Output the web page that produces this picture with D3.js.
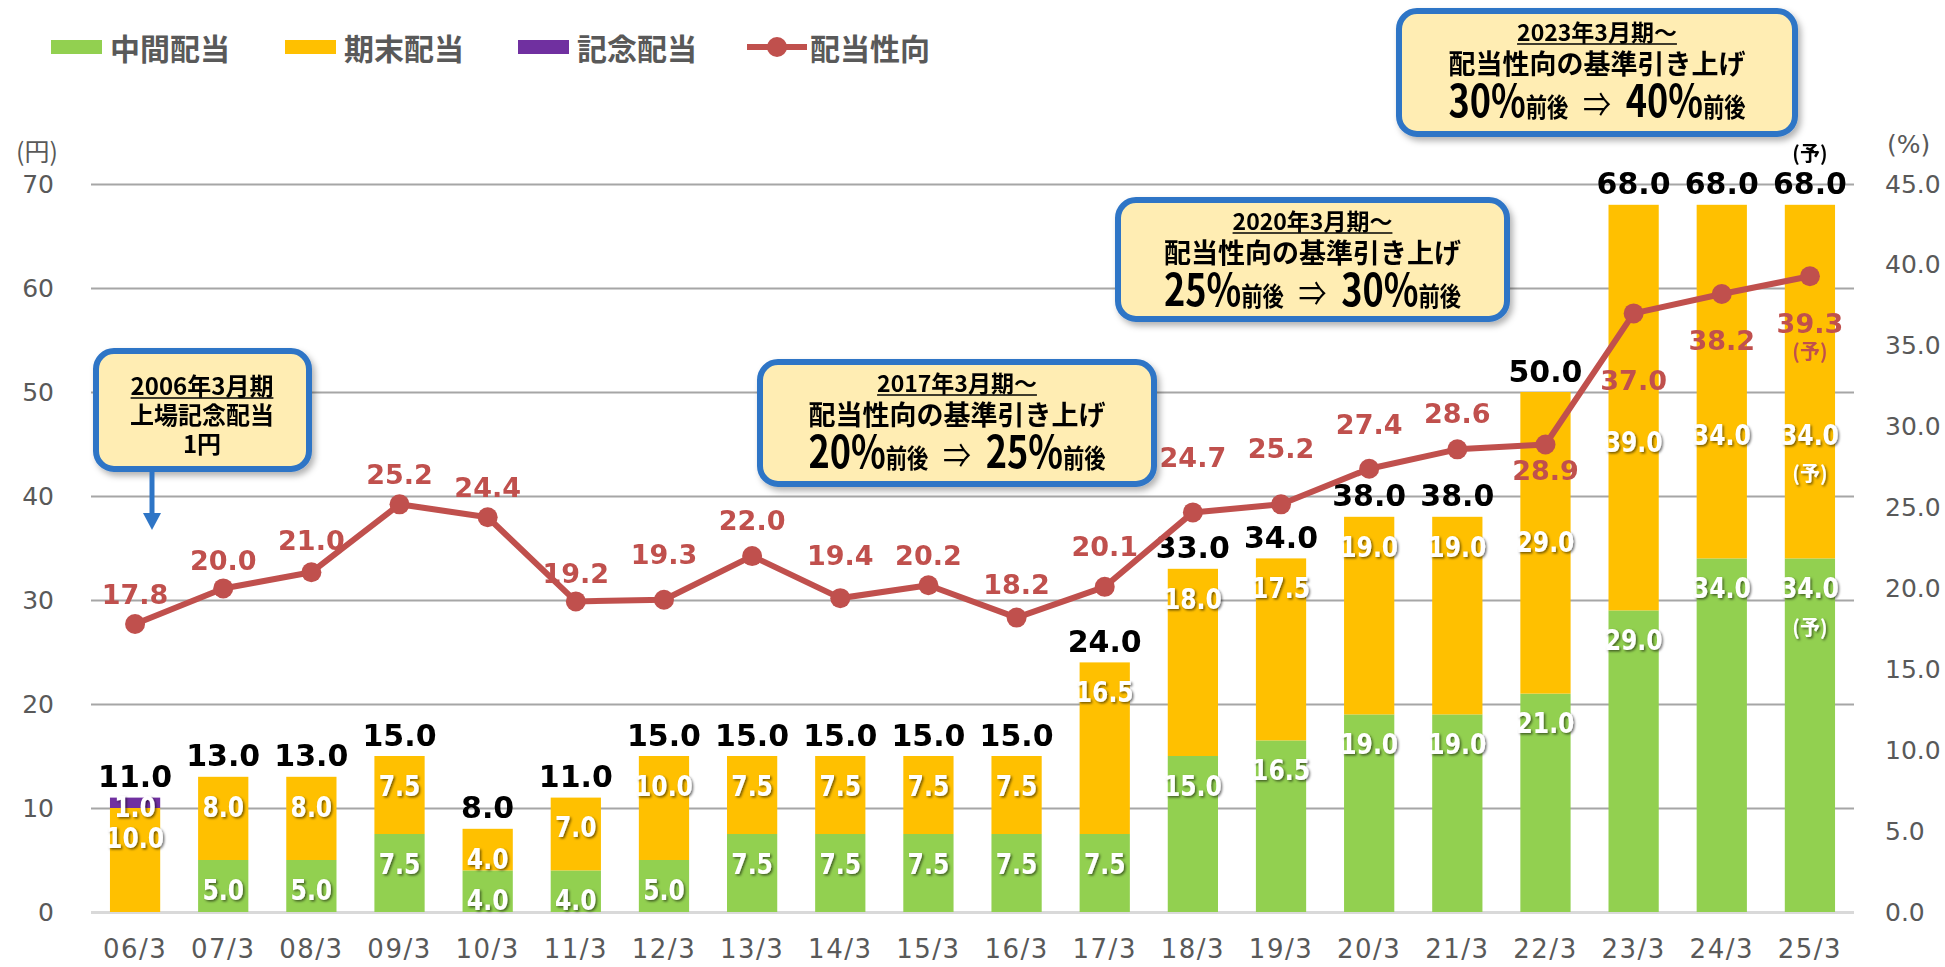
<!DOCTYPE html>
<html>
<head>
<meta charset="utf-8">
<script src="https://cdn.jsdelivr.net/npm/d3@7"></script>
<style>
body{margin:0;background:#fff;}
text{font-family:"DejaVu Sans",sans-serif;}
.jp{font-family:"Noto Sans CJK JP",sans-serif;}
</style>
</head>
<body>
<svg id="chart" width="1945" height="967"></svg>
<script>
// data
var years=['06/3','07/3','08/3','09/3','10/3','11/3','12/3','13/3','14/3','15/3','16/3','17/3','18/3','19/3','20/3','21/3','22/3','23/3','24/3','25/3'];
var interim=[0,5.0,5.0,7.5,4.0,4.0,5.0,7.5,7.5,7.5,7.5,7.5,15.0,16.5,19.0,19.0,21.0,29.0,34.0,34.0];
var yearEnd=[10.0,8.0,8.0,7.5,4.0,7.0,10.0,7.5,7.5,7.5,7.5,16.5,18.0,17.5,19.0,19.0,29.0,39.0,34.0,34.0];
var commemorative=[1.0,0,0,0,0,0,0,0,0,0,0,0,0,0,0,0,0,0,0,0];
var payout=[17.8,20.0,21.0,25.2,24.4,19.2,19.3,22.0,19.4,20.2,18.2,20.1,24.7,25.2,27.4,28.6,28.9,37.0,38.2,39.3];
var yenTicks=[0,10,20,30,40,50,60,70];
var pctTicks=[0,5,10,15,20,25,30,35,40,45];
var seriesNames=['中間配当','期末配当','記念配当','配当性向'];
var seriesColors=['#92D050','#FFC000','#7030A0','#C0504D'];
var forecastYear='25/3';

// hand placed label offsets (px), like in the original sheet
var payoutLabelDy=[-30,-28,-32,-30,-30,-28,-45,-36,-43,-30,-33,-40,-55,-56,-44,-36,26,67,46,47];
var segLabelDy={'期末配当|22/3':150,'期末配当|23/3':237,'期末配当|24/3':230,'期末配当|25/3':230,'記念配当|06/3':10};

var svg=d3.select('#chart');
var defs=svg.append('defs');
defs.append('filter').attr('id','txtshadow').attr('x','-20%').attr('y','-20%').attr('width','140%').attr('height','140%')
  .append('feDropShadow').attr('dx',1.5).attr('dy',1.5).attr('stdDeviation',1).attr('flood-color','#000').attr('flood-opacity',0.55);
defs.append('filter').attr('id','boxshadow').attr('x','-10%').attr('y','-10%').attr('width','125%').attr('height','130%')
  .append('feDropShadow').attr('dx',3).attr('dy',4).attr('stdDeviation',3).attr('flood-color','#000').attr('flood-opacity',0.3);

var plotLeft=91,plotRight=1854,plotTop=184,plotBottom=912;
var x=d3.scaleBand().domain(years).range([plotLeft,plotRight]).paddingInner(0.43).paddingOuter(0.215);
var yL=d3.scaleLinear().domain([0,70]).range([plotBottom,plotTop]);
var yR=d3.scaleLinear().domain([0,45]).range([plotBottom,plotTop]);
function cx(year){return x(year)+x.bandwidth()/2;}

// gridlines + left axis
var gL=svg.append('g').attr('transform','translate('+plotLeft+',0)')
  .call(d3.axisLeft(yL).tickValues(yenTicks).tickSize(-(plotRight-plotLeft)).tickPadding(37));
gL.select('.domain').remove();
gL.selectAll('.tick line').attr('stroke',function(d){return d==0?'#D9D9D9':'#A6A6A6';}).attr('stroke-width',function(d){return d==0?3:2;});
gL.selectAll('.tick text').attr('fill','#595959').style('font-size','25px');

var gR=svg.append('g').attr('transform','translate('+plotRight+',0)')
  .call(d3.axisRight(yR).tickValues(pctTicks).tickFormat(d3.format('.1f')).tickSize(0).tickPadding(31));
gR.select('.domain').remove();
gR.selectAll('.tick text').attr('fill','#595959').style('font-size','25px');

var gB=svg.append('g').attr('transform','translate(0,'+plotBottom+')')
  .call(d3.axisBottom(x).tickSize(0).tickPadding(28));
gB.select('.domain').remove();
gB.selectAll('.tick text').attr('fill','#595959').style('font-size','26px').style('letter-spacing','1.5px');

svg.append('text').attr('class','jp').attr('x',16).attr('y',150).attr('dominant-baseline','central')
  .attr('fill','#595959').style('font-size','25px').text('(円)');
svg.append('text').attr('x',1887).attr('y',144).attr('dominant-baseline','central')
  .attr('fill','#595959').style('font-size','25px').text('(%)');

// stacked bars
var table=years.map(function(y,i){return {year:y,'中間配当':interim[i],'期末配当':yearEnd[i],'記念配当':commemorative[i]};});
var stacked=d3.stack().keys(seriesNames.slice(0,3))(table);

var layers=svg.append('g').selectAll('g').data(stacked).join('g').attr('fill',function(d,i){return seriesColors[i];});
layers.selectAll('rect').data(function(d){return d.filter(function(p){return p[1]>p[0];});}).join('rect')
  .attr('x',function(d){return x(d.data.year);})
  .attr('width',x.bandwidth())
  .attr('y',function(d){return yL(d[1]);})
  .attr('height',function(d){return yL(d[0])-yL(d[1]);});

// white segment labels
var segLabels=[];
stacked.forEach(function(layer){
  layer.forEach(function(p){
    if(p[1]>p[0]){
      var k=layer.key+'|'+p.data.year;
      var dy=segLabelDy[k]!==undefined?segLabelDy[k]:30;
      segLabels.push({year:p.data.year,v:p[1]-p[0],y:yL(p[1])+dy,key:layer.key});
    }
  });
});
var gSeg=svg.append('g').attr('filter','url(#txtshadow)');
gSeg.selectAll('text').data(segLabels).join('text')
  .attr('transform',function(d){return 'translate('+cx(d.year)+','+d.y+') scale(0.84,1)';})
  .attr('text-anchor','middle').attr('dominant-baseline','central')
  .attr('fill','#fff').style('font-size','28px').style('font-weight','bold')
  .text(function(d){return d.v.toFixed(1);});
segLabels.filter(function(d){return d.year==forecastYear&&d.key!='記念配当';}).forEach(function(d){
  gSeg.append('text').attr('class','jp').attr('x',cx(d.year)).attr('y',d.y+38)
    .attr('text-anchor','middle').attr('dominant-baseline','central').attr('fill','#fff')
    .style('font-size','20px').style('font-weight','bold').text('(予)');
});

// totals
var totals=table.map(function(d){return d['中間配当']+d['期末配当']+d['記念配当'];});
svg.append('g').selectAll('text').data(totals).join('text')
  .attr('x',function(d,i){return cx(years[i]);})
  .attr('y',function(d){return yL(d)-21;})
  .attr('text-anchor','middle').attr('dominant-baseline','central')
  .attr('fill','#000').style('font-size','30px').style('font-weight','bold')
  .text(function(d){return d.toFixed(1);});
svg.append('text').attr('class','jp').attr('x',cx(forecastYear)).attr('y',yL(totals[totals.length-1])-52)
  .attr('text-anchor','middle').attr('dominant-baseline','central').attr('fill','#000')
  .style('font-size','20px').style('font-weight','bold').text('(予)');

// payout line
var line=d3.line().x(function(d,i){return cx(years[i]);}).y(function(d){return yR(d);});
svg.append('path').datum(payout).attr('d',line).attr('fill','none').attr('stroke',seriesColors[3]).attr('stroke-width',6).attr('stroke-linejoin','round');
svg.append('g').selectAll('circle').data(payout).join('circle')
  .attr('cx',function(d,i){return cx(years[i]);})
  .attr('cy',function(d){return yR(d);})
  .attr('r',10).attr('fill',seriesColors[3]);
svg.append('g').selectAll('text').data(payout).join('text')
  .attr('x',function(d,i){return cx(years[i]);})
  .attr('y',function(d,i){return yR(d)+payoutLabelDy[i];})
  .attr('text-anchor','middle').attr('dominant-baseline','central')
  .attr('fill',seriesColors[3]).style('font-size','27px').style('font-weight','bold')
  .text(function(d){return d.toFixed(1);});
svg.append('text').attr('class','jp').attr('x',cx(forecastYear))
  .attr('y',yR(payout[payout.length-1])+payoutLabelDy[payoutLabelDy.length-1]+27)
  .attr('text-anchor','middle').attr('dominant-baseline','central').attr('fill',seriesColors[3])
  .style('font-size','20px').style('font-weight','bold').text('(予)');

// legend
var legendX=[51,285,518,747];
var lg=svg.append('g').selectAll('g').data(seriesNames).join('g')
  .attr('transform',function(d,i){return 'translate('+legendX[i]+',47)';});
lg.each(function(d,i){
  var g=d3.select(this);
  if(i<3){
    g.append('rect').attr('x',0).attr('y',-7).attr('width',51).attr('height',14).attr('fill',seriesColors[i]);
  }else{
    g.append('line').attr('x1',0).attr('x2',60).attr('y1',0).attr('y2',0).attr('stroke',seriesColors[i]).attr('stroke-width',6);
    g.append('circle').attr('cx',30).attr('cy',0).attr('r',10).attr('fill',seriesColors[i]);
  }
  g.append('text').attr('class','jp').attr('x',i<3?59:63).attr('y',0).attr('dominant-baseline','central')
    .attr('fill','#595959').style('font-size','30px').style('font-weight','bold').text(d);
});

// callout boxes
function callout(x0,y0,x1,y1){
  var g=svg.append('g');
  g.append('rect').attr('x',x0+3).attr('y',y0+3).attr('width',x1-x0-6).attr('height',y1-y0-6)
    .attr('rx',18).attr('fill','#FFEDB3').attr('stroke','#2E75C6').attr('stroke-width',6).attr('filter','url(#boxshadow)');
  return g;
}
function underlined(g,mx,y,txt,size){
  var t=g.append('text').attr('class','jp').attr('x',mx).attr('y',y).attr('text-anchor','middle')
    .attr('fill','#000').style('font-size',size+'px').style('font-weight','bold').text(txt);
  var w=t.node().getComputedTextLength();
  g.append('line').attr('x1',mx-w/2).attr('x2',mx+w/2).attr('y1',y+3).attr('y2',y+3).attr('stroke','#000').attr('stroke-width',1.5);
}
function raiseBox(x0,y0,x1,y1,head,from,to){
  var g=callout(x0,y0,x1,y1);
  var mx=(x0+x1)/2;
  underlined(g,mx,y0+33,head,23);
  g.append('text').attr('class','jp').attr('x',mx).attr('y',y0+66).attr('text-anchor','middle')
    .attr('fill','#000').style('font-size','27px').style('font-weight','bold').text('配当性向の基準引き上げ');
  var t=g.append('text').attr('transform','translate('+mx+','+(y0+109)+') scale(0.82,1)').attr('text-anchor','middle').attr('fill','#000');
  t.append('tspan').attr('class','jp').style('font-size','44px').style('font-weight','bold').text(from);
  t.append('tspan').attr('class','jp').style('font-size','26px').style('font-weight','bold').text('前後');
  t.append('tspan').attr('class','jp').attr('dx',18).style('font-size','34px').text('⇒');
  t.append('tspan').attr('class','jp').attr('dx',18).style('font-size','44px').style('font-weight','bold').text(to);
  t.append('tspan').attr('class','jp').style('font-size','26px').style('font-weight','bold').text('前後');
}

var b1=callout(93,348,312,472);
underlined(b1,202,395,'2006年3月期',24);
b1.append('text').attr('class','jp').attr('x',202).attr('y',424).attr('text-anchor','middle').attr('fill','#000')
  .style('font-size','24px').style('font-weight','bold').text('上場記念配当');
b1.append('text').attr('class','jp').attr('x',202).attr('y',453).attr('text-anchor','middle').attr('fill','#000')
  .style('font-size','24px').style('font-weight','bold').text('1円');
b1.append('line').attr('x1',152).attr('x2',152).attr('y1',470).attr('y2',515).attr('stroke','#2E75C6').attr('stroke-width',5);
b1.append('path').attr('d','M143,513L161,513L152,530Z').attr('fill','#2E75C6');

raiseBox(757,359,1157,487,'2017年3月期～','20%','25%');
raiseBox(1115,197,1510,322,'2020年3月期～','25%','30%');
raiseBox(1396,8,1798,137,'2023年3月期～','30%','40%');
</script>
</body>
</html>
